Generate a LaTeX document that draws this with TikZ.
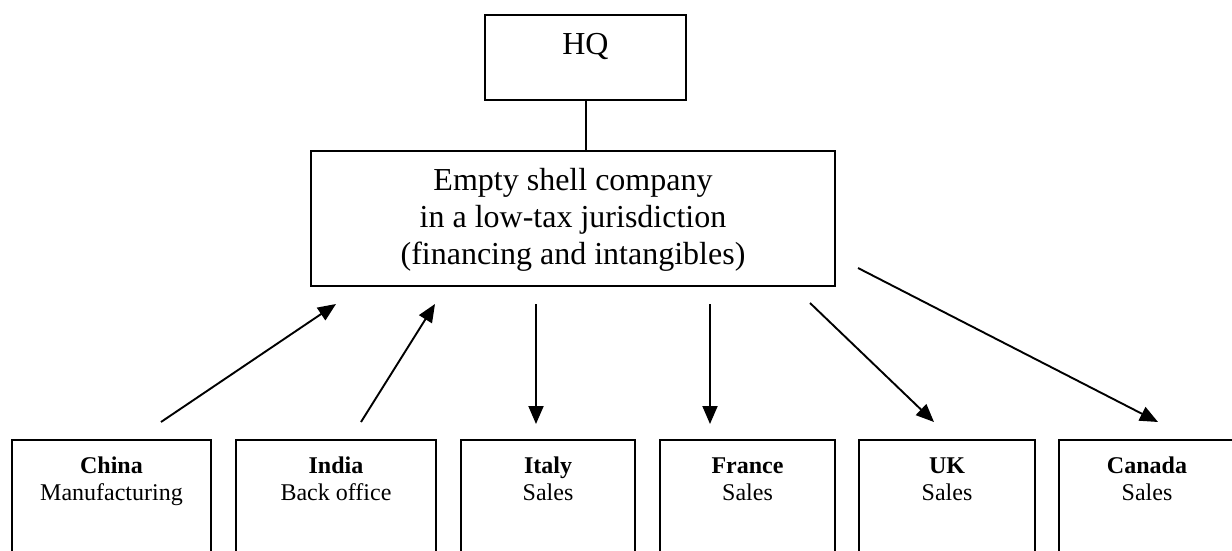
\documentclass[tikz,border=0pt]{standalone}
\usepackage{fontspec}
\setmainfont{Liberation Serif}
\usetikzlibrary{arrows.meta}
\begin{document}
\begin{tikzpicture}[x=0.5pt,y=-0.5pt,
  box/.style={draw, line width=1.1pt, rectangle, inner sep=0pt},
  big/.style={font=\fontsize{16}{18.5}\selectfont},
  unit/.style={box, anchor=north, minimum height=100pt},
  unitlabel/.style={anchor=north, align=center, inner sep=0pt,
    font=\fontsize{12}{13.5}\selectfont},
  flow/.style={line width=0.95pt, -{Triangle[length=9pt,width=7.5pt]}},
  link/.style={line width=1pt}]
\useasboundingbox (0,0) rectangle (1232,551);
\clip (0,0) rectangle (1232,551);

% parent and intermediate entity
\node[box, big, minimum width=100.5pt, text height=20pt, text depth=22.5pt]
  (hq) at (585.5,57.5) {HQ};
\node[box, big, align=center, minimum width=262pt, minimum height=67.5pt]
  (shell) at (573,218.5)
  {\strut Empty shell company\\in a low-tax jurisdiction\\(financing and intangibles)};
\draw[link] (hq.south) -- (hq.south |- shell.north);

% subsidiaries (boxes run past the lower edge)
\node[unit, minimum width=99.5pt] (china)  at (111.5,439) {};
\node[unit, minimum width=100pt]  (india)  at (336,439)   {};
\node[unit, minimum width=87pt]   (italy)  at (548,439)   {};
\node[unit, minimum width=87.5pt] (france) at (747.5,439) {};
\node[unit, minimum width=88pt]   (uk)     at (947,439)   {};
\node[unit, minimum width=88pt]   (canada) at (1147,439)  {};

\node[unitlabel] (chinaL)  at (111.5,454) {\strut\textbf{China}\\Manufacturing};
\node[unitlabel] (indiaL)  at (336,454)   {\strut\textbf{India}\\Back office};
\node[unitlabel] (italyL)  at (548,454)   {\strut\textbf{Italy}\\Sales};
\node[unitlabel] (franceL) at (747.5,454) {\strut\textbf{France}\\Sales};
\node[unitlabel] (ukL)     at (947,454)   {\strut\textbf{UK}\\Sales};
\node[unitlabel] (canadaL) at (1147,454)  {\strut\textbf{Canada}\\Sales};

% arrow end points in the gap between the rows
\coordinate (chinaS)  at (161,422);  \coordinate (chinaE)  at (336,304);
\coordinate (indiaS)  at (361,422);  \coordinate (indiaE)  at (435,304);
\coordinate (italyS)  at (536,304);  \coordinate (italyE)  at (536,424);
\coordinate (franceS) at (710,304);  \coordinate (franceE) at (710,424);
\coordinate (ukS)     at (810,303);  \coordinate (ukE)     at (934,422);
\coordinate (canadaS) at (858,268);  \coordinate (canadaE) at (1158,422);

\draw[flow] (chinaS)  -- (chinaE);
\draw[flow] (indiaS)  -- (indiaE);
\draw[flow] (italyS)  -- (italyE);
\draw[flow] (franceS) -- (franceE);
\draw[flow] (ukS)     -- (ukE);
\draw[flow] (canadaS) -- (canadaE);
\end{tikzpicture}
\end{document}
